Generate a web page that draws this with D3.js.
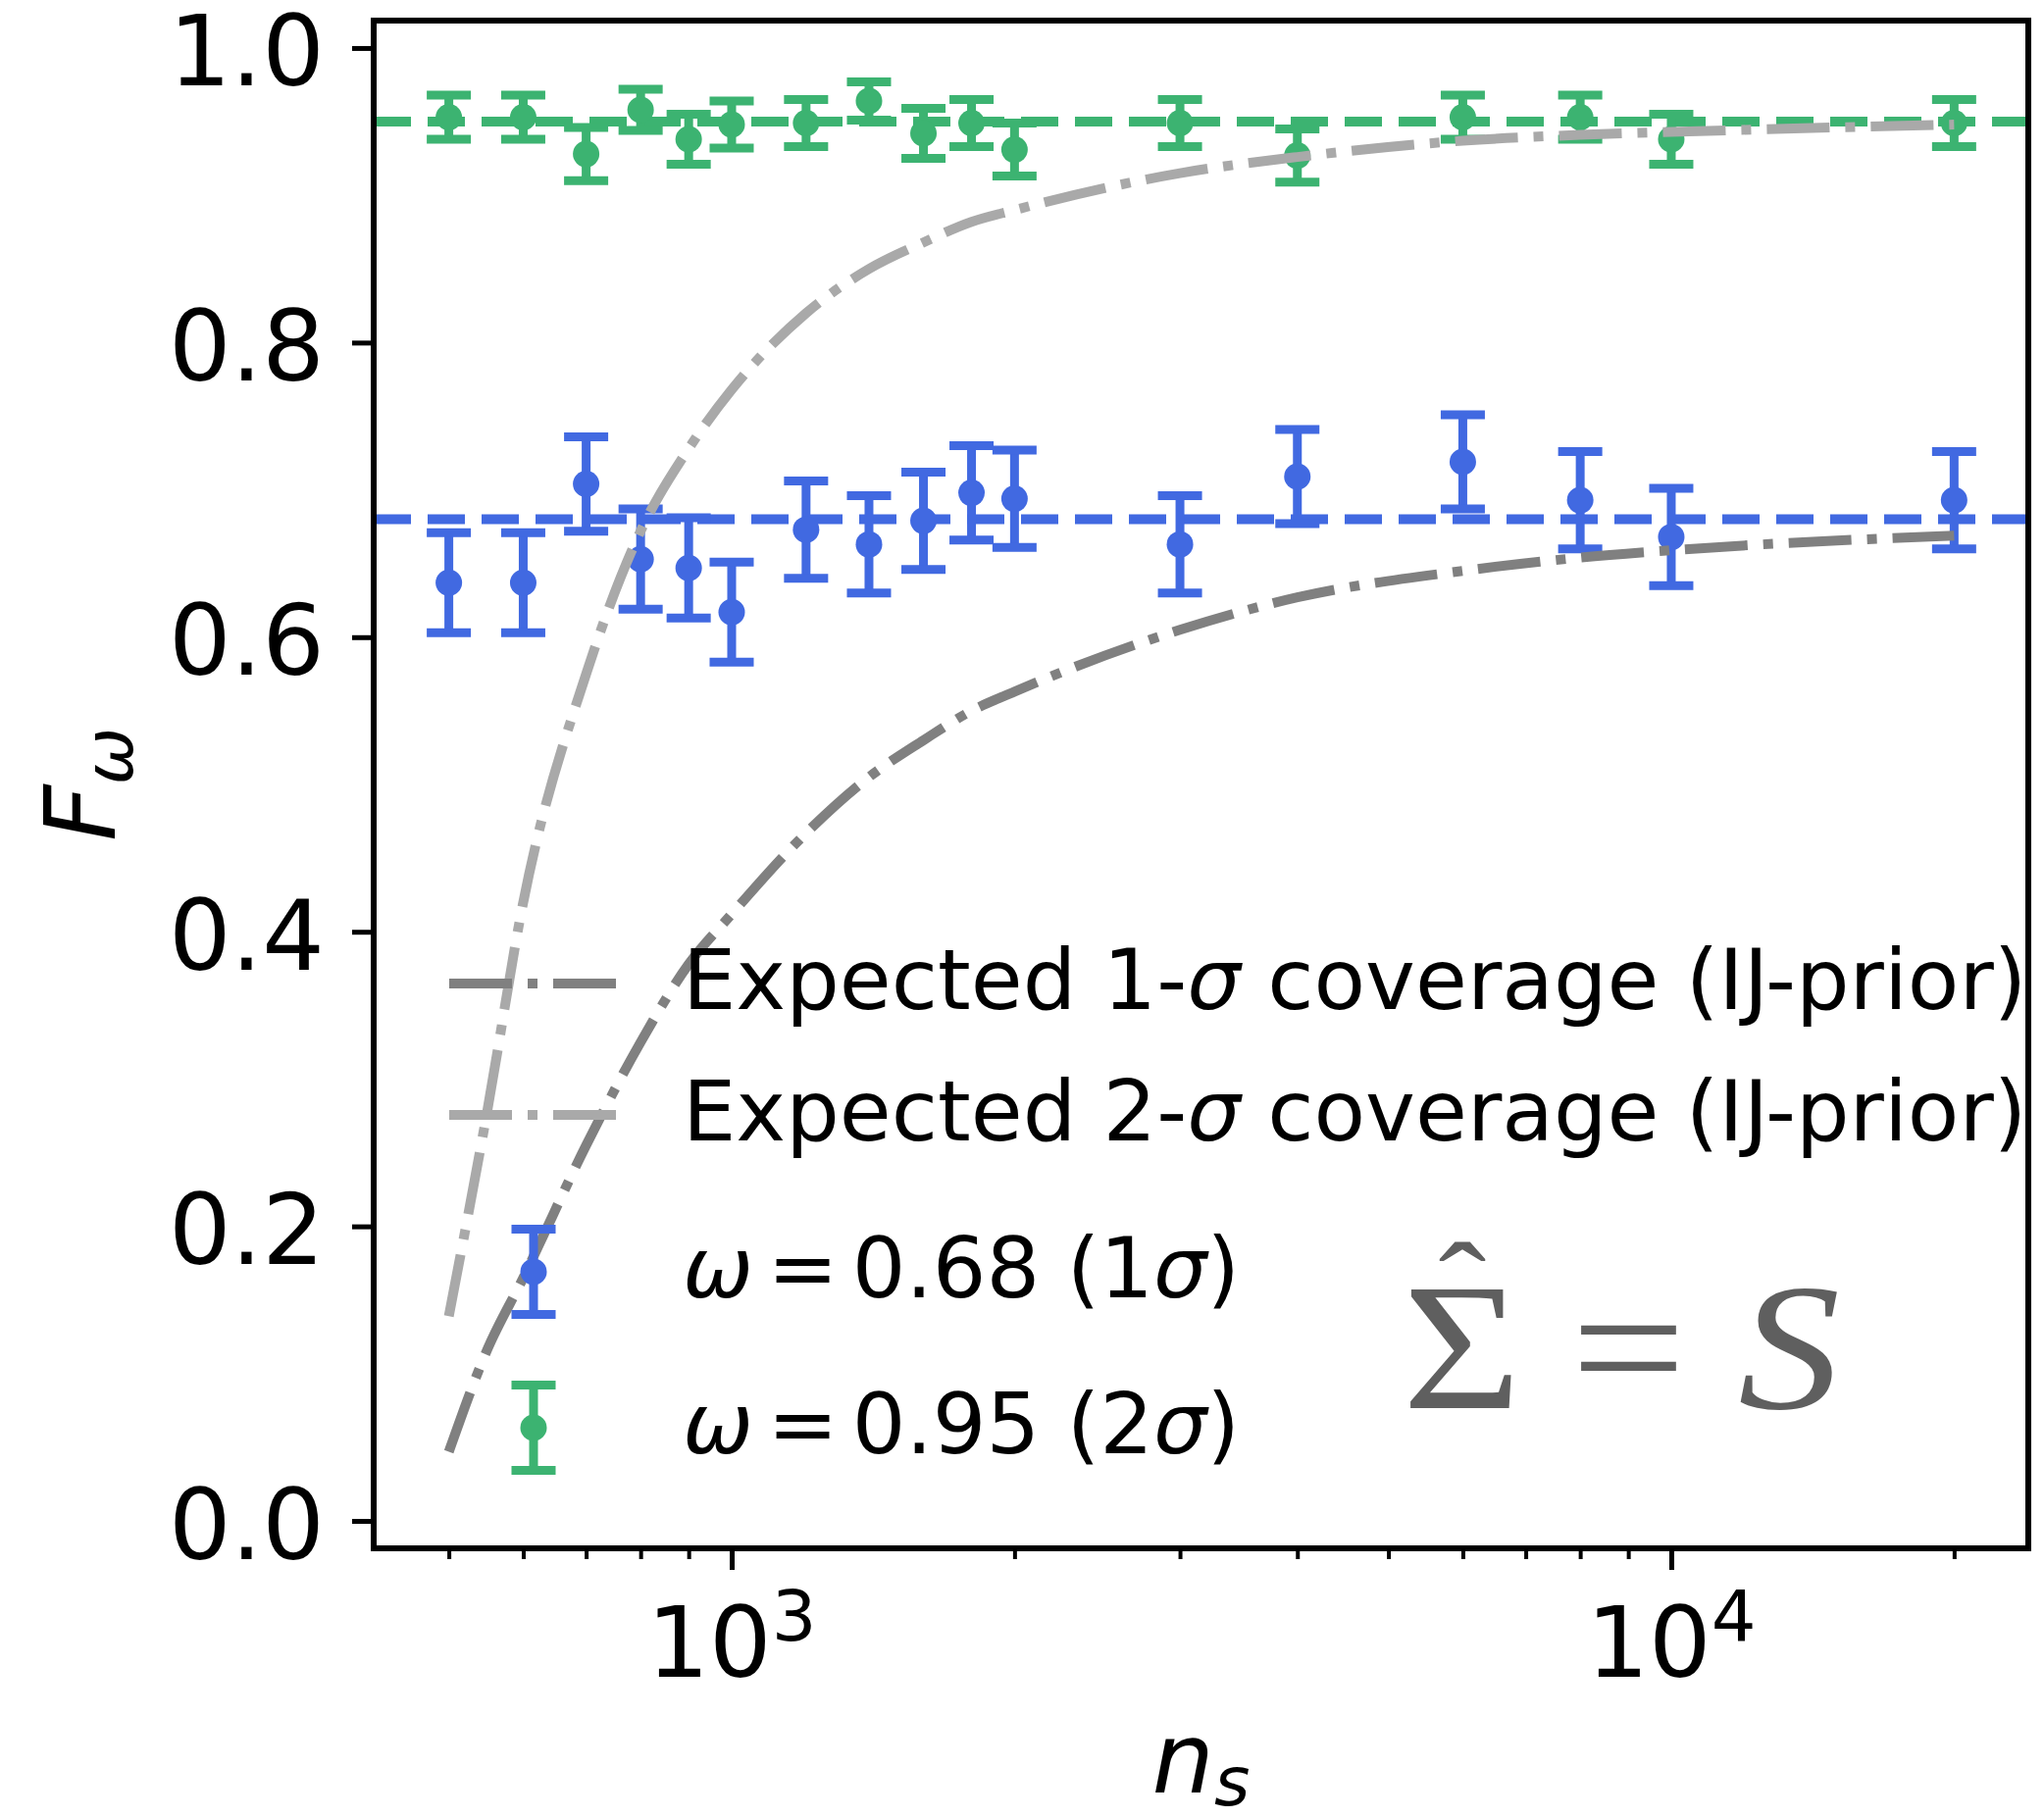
<!DOCTYPE html>
<html>
<head>
<meta charset="utf-8">
<script src="https://cdn.jsdelivr.net/npm/d3@7"></script>
<style>
  body { margin: 0; background: #fff; }
  text { font-family: "DejaVu Sans", sans-serif; }
</style>
</head>
<body>
<div id="graph-container"></div>
<script>
// Sample sizes of the coverage test
const nsValues = [500, 600, 700, 800, 900, 1000, 1200, 1400, 1600, 1800, 2000, 3000, 4000, 6000, 8000, 10000, 20000];

// omega = 0.68 (1 sigma)
const fBlue = [0.637, 0.637, 0.704, 0.653, 0.647, 0.617, 0.673, 0.663, 0.679, 0.698, 0.694, 0.663, 0.709, 0.719, 0.693, 0.668, 0.693];
const fBlueErr = [0.034, 0.034, 0.032, 0.034, 0.034, 0.034, 0.033, 0.033, 0.033, 0.032, 0.033, 0.033, 0.032, 0.032, 0.033, 0.033, 0.033];

// omega = 0.95 (2 sigma)
const fGreen = [0.953, 0.953, 0.928, 0.958, 0.938, 0.948, 0.949, 0.964, 0.942, 0.949, 0.931, 0.949, 0.927, 0.953, 0.953, 0.938, 0.949];
const fGreenErr = [0.015, 0.015, 0.018, 0.014, 0.017, 0.016, 0.016, 0.013, 0.017, 0.016, 0.018, 0.016, 0.018, 0.015, 0.015, 0.017, 0.016];

// Expected coverage curves (IJ-prior)
const curveNs = [500, 550, 600, 700, 800, 900, 1000, 1200, 1400, 1600, 1800, 2000, 3000, 4000, 6000, 8000, 10000, 20000];
const expected1Sigma = [0.047, 0.117, 0.165, 0.255, 0.325, 0.378, 0.412, 0.467, 0.505, 0.530, 0.550, 0.563, 0.605, 0.627, 0.645, 0.654, 0.659, 0.669];
const expected2Sigma = [0.139, 0.280, 0.420, 0.575, 0.672, 0.728, 0.768, 0.820, 0.850, 0.868, 0.882, 0.890, 0.915, 0.926, 0.937, 0.941, 0.943, 0.948];

const targetLevels = [0.68, 0.95];

const yTicks = [0.0, 0.2, 0.4, 0.6, 0.8, 1.0];
const xMajorTicks = [1000, 10000];
const xMajorExponents = ['3', '4'];
const xMinorTicks = [500, 600, 700, 800, 900, 2000, 3000, 4000, 5000, 6000, 7000, 8000, 9000, 20000];

// [text, italic] ; \u2006 is a narrow space, as in the math text
const legendLabels = [
  [['Expected 1-', false], ['σ', true], [' coverage (IJ-prior)', false]],
  [['Expected 2-', false], ['σ', true], [' coverage (IJ-prior)', false]],
  [['ω', true], ['\u2006=\u20060.68 (1', false], ['σ', true], [')', false]],
  [['ω', true], ['\u2006=\u20060.95 (2', false], ['σ', true], [')', false]],
];

const colors = {
  blue: '#4169e1',
  green: '#3cb371',
  dark: '#808080',
  light: '#a9a9a9',
  note: '#5f5f5f',
};

function drawGraph() {
  const width = 2084;
  const height = 1853;
  const margin = {top: 21, right: 16, bottom: 274, left: 381};

  const svg = d3.select('#graph-container')
    .append('svg')
    .attr('width', width)
    .attr('height', height)
    .style('display', 'block')
    .style('background', '#fff');

  const xScale = d3.scaleLog()
    .domain([Math.pow(10, 2.619), Math.pow(10, 4.380)])
    .range([margin.left, width - margin.right]);

  const yScale = d3.scaleLinear()
    .domain([-0.0186, 1.0186])
    .range([height - margin.bottom, margin.top]);

  const lw = 10;

  // Target levels
  svg.append('g')
    .selectAll('line')
    .data(targetLevels)
    .join('line')
    .attr('x1', xScale.range()[0])
    .attr('x2', xScale.range()[1])
    .attr('y1', (d) => yScale(d))
    .attr('y2', (d) => yScale(d))
    .attr('stroke', (d, i) => i === 0 ? colors.blue : colors.green)
    .attr('stroke-width', lw)
    .attr('stroke-dasharray', '38,17');

  // Error bars
  const capHalf = 22.5;
  function errorBars(values, errs, color) {
    const pts = nsValues.map((n, i) => ({x: n, y: values[i], e: errs[i]}));
    const g = svg.append('g');
    g.selectAll('.bar')
      .data(pts)
      .join('line')
      .attr('x1', (d) => xScale(d.x))
      .attr('x2', (d) => xScale(d.x))
      .attr('y1', (d) => yScale(d.y - d.e))
      .attr('y2', (d) => yScale(d.y + d.e))
      .attr('stroke', color)
      .attr('stroke-width', 9);
    [-1, 1].forEach((s) => {
      g.selectAll('.cap' + s)
        .data(pts)
        .join('line')
        .attr('x1', (d) => xScale(d.x) - capHalf)
        .attr('x2', (d) => xScale(d.x) + capHalf)
        .attr('y1', (d) => yScale(d.y + s * d.e))
        .attr('y2', (d) => yScale(d.y + s * d.e))
        .attr('stroke', color)
        .attr('stroke-width', 9);
    });
    g.selectAll('circle')
      .data(pts)
      .join('circle')
      .attr('cx', (d) => xScale(d.x))
      .attr('cy', (d) => yScale(d.y))
      .attr('r', 13.5)
      .attr('fill', color);
  }
  errorBars(fBlue, fBlueErr, colors.blue);
  errorBars(fGreen, fGreenErr, colors.green);

  // Expected curves
  const lineFunction = d3.line()
    .x((d) => xScale(d.x))
    .y((d) => yScale(d.y))
    .curve(d3.curveMonotoneX);

  [[expected1Sigma, colors.dark], [expected2Sigma, colors.light]].forEach(([vals, color]) => {
    svg.append('path')
      .attr('d', lineFunction(curveNs.map((n, i) => ({x: n, y: vals[i]}))))
      .attr('fill', 'none')
      .attr('stroke', color)
      .attr('stroke-width', lw)
      .attr('stroke-dasharray', '64,16,10,16');
  });

  // Y axis
  const yAxis = d3.axisLeft(yScale)
    .tickValues(yTicks)
    .tickSizeInner(22)
    .tickSizeOuter(0)
    .tickPadding(28)
    .tickFormat(d3.format('.1f'));

  const yg = svg.append('g')
    .attr('transform', `translate(${margin.left},0)`)
    .call(yAxis);
  yg.select('.domain').remove();
  yg.selectAll('line').attr('stroke', '#000').attr('stroke-width', 5);
  yg.selectAll('text')
    .attr('font-family', '"DejaVu Sans"')
    .attr('font-size', 100)
    .attr('fill', '#000')
    .attr('dy', '0.38em');

  // X axis, major and minor ticks
  const xBase = height - margin.bottom;
  const xMajor = d3.axisBottom(xScale)
    .tickValues(xMajorTicks)
    .tickSizeInner(22)
    .tickSizeOuter(0)
    .tickFormat('');
  const xg = svg.append('g')
    .attr('transform', `translate(0,${xBase})`)
    .call(xMajor);
  xg.select('.domain').remove();
  xg.selectAll('line').attr('stroke', '#000').attr('stroke-width', 5);

  const xMinor = d3.axisBottom(xScale)
    .tickValues(xMinorTicks)
    .tickSizeInner(11)
    .tickSizeOuter(0)
    .tickFormat('');
  const xmg = svg.append('g')
    .attr('transform', `translate(0,${xBase})`)
    .call(xMinor);
  xmg.select('.domain').remove();
  xmg.selectAll('line').attr('stroke', '#000').attr('stroke-width', 4);

  const xLabels = svg.append('g')
    .selectAll('text')
    .data(xMajorTicks)
    .join('text')
    .attr('x', (d) => xScale(d))
    .attr('y', 1710)
    .attr('text-anchor', 'middle')
    .attr('font-size', 100);
  xLabels.append('tspan').text('10');
  xLabels.append('tspan')
    .attr('font-size', 72)
    .attr('dy', -37)
    .text((d, i) => xMajorExponents[i]);

  // Frame
  svg.append('rect')
    .attr('x', xScale.range()[0])
    .attr('y', yScale.range()[1])
    .attr('width', xScale.range()[1] - xScale.range()[0])
    .attr('height', yScale.range()[0] - yScale.range()[1])
    .attr('fill', 'none')
    .attr('stroke', '#000')
    .attr('stroke-width', 6);

  // Axis labels
  const xTitle = svg.append('text')
    .attr('x', (xScale.range()[0] + xScale.range()[1]) / 2)
    .attr('y', 1828)
    .attr('text-anchor', 'middle')
    .attr('font-size', 100);
  xTitle.append('tspan').attr('font-style', 'italic').text('n');
  xTitle.append('tspan').attr('font-style', 'italic').attr('font-size', 70).attr('dy', 13).text('s');

  const yTitle = svg.append('text')
    .attr('transform', `translate(117,${(yScale.range()[0] + yScale.range()[1]) / 2}) rotate(-90)`)
    .attr('text-anchor', 'middle')
    .attr('font-size', 100);
  yTitle.append('tspan').attr('font-style', 'italic').text('F');
  yTitle.append('tspan').attr('font-style', 'italic').attr('font-size', 70).attr('dy', 18).text('ω');

  // Legend
  const legendRows = [1003, 1137, 1297, 1456];
  const hx0 = 458;
  const hx1 = 630;
  const hxc = (hx0 + hx1) / 2;
  const legend = svg.append('g');

  [colors.dark, colors.light].forEach((color, i) => {
    legend.append('line')
      .attr('x1', hx0).attr('x2', hx1)
      .attr('y1', legendRows[i]).attr('y2', legendRows[i])
      .attr('stroke', color)
      .attr('stroke-width', lw)
      .attr('stroke-dasharray', '64,16,10,16');
  });

  [colors.blue, colors.green].forEach((color, i) => {
    const cy = legendRows[i + 2];
    const eh = 43.5;
    legend.append('line')
      .attr('x1', hxc).attr('x2', hxc)
      .attr('y1', cy - eh).attr('y2', cy + eh)
      .attr('stroke', color).attr('stroke-width', 9);
    [-eh, eh].forEach((o) => {
      legend.append('line')
        .attr('x1', hxc - capHalf).attr('x2', hxc + capHalf)
        .attr('y1', cy + o).attr('y2', cy + o)
        .attr('stroke', color).attr('stroke-width', 9);
    });
    legend.append('circle')
      .attr('cx', hxc).attr('cy', cy).attr('r', 13.5).attr('fill', color);
  });

  legendLabels.forEach((parts, i) => {
    const t = legend.append('text')
      .attr('x', 696)
      .attr('y', legendRows[i] + 26)
      .attr('font-size', 86)
      .attr('xml:space', 'preserve')
      .style('white-space', 'pre');
    parts.forEach(([s, it]) => {
      t.append('tspan')
        .attr('font-style', it ? 'italic' : 'normal')
        .text(s);
    });
  });

  // Annotation: Sigma-hat = S (math serif glyphs are a bit wider than Times)
  const ann = svg.append('text')
    .attr('transform', 'translate(1430,1436) scale(1.13,1)')
    .attr('fill', colors.note)
    .attr('font-size', 184)
    .style('font-family', '"Liberation Serif", serif');
  ann.append('tspan').attr('x', 0).attr('y', 0).text('Σ');
  ann.append('tspan')
    .attr('x', 54)
    .attr('y', -79)
    .attr('font-size', 130)
    .attr('text-anchor', 'middle')
    .text('ˆ');
  ann.append('tspan').attr('x', 152).attr('y', 0).attr('text-anchor', 'start').text('=');
  ann.append('tspan').attr('x', 303).attr('font-style', 'italic').text('S');
}

drawGraph();
</script>
</body>
</html>
